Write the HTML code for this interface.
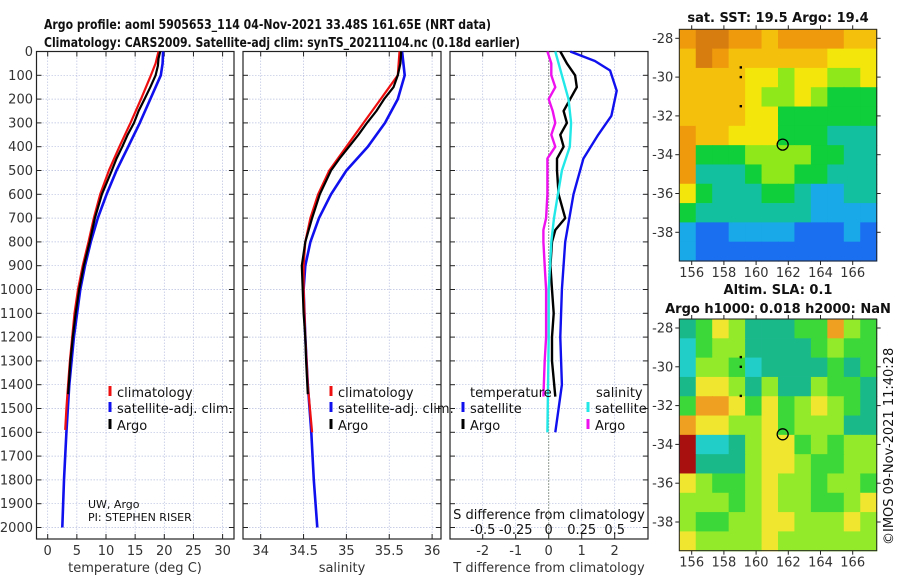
<!DOCTYPE html>
<html><head><meta charset="utf-8">
<style>
html,body{margin:0;padding:0;background:#fff;}
svg{display:block;font-family:"DejaVu Sans","Liberation Sans",sans-serif;}
</style></head>
<body>
<svg id="chart" width="900" height="580" viewBox="0 0 900 580" xmlns="http://www.w3.org/2000/svg">
<text x="44" y="29" font-size="13" font-weight="bold" fill="#111" textLength="447" lengthAdjust="spacingAndGlyphs">Argo profile: aoml 5905653_114 04-Nov-2021 33.48S 161.65E (NRT data)</text>
<text x="44" y="47" font-size="13" font-weight="bold" fill="#111" textLength="476" lengthAdjust="spacingAndGlyphs">Climatology: CARS2009. Satellite-adj clim: synTS_20211104.nc (0.18d earlier)</text>
<g id="g"></g>
</svg>
<script>
// ---------- data ----------
const tDepthClim = [0,50,100,200,300,400,500,600,700,800,900,1000,1100,1200,1300,1400,1500,1590];
const tClim      = [19,18.5,17.7,16,14.2,12.3,10.5,9.0,7.9,7.0,6.0,5.2,4.6,4.2,3.8,3.5,3.2,3.0];
const tDepthSat  = [0,50,100,200,300,400,500,600,700,800,900,1000,1200,1400,1600,1800,2000];
const tSat       = [19.8,19.7,19.4,17.6,15.8,13.8,11.8,10.1,8.6,7.4,6.4,5.6,4.5,3.7,3.2,2.8,2.5];
const tDepthArgo = [0,30,60,100,150,200,250,300,350,400,450,500,600,700,800,900,1000,1100,1200,1300,1440];
const tArgo      = [19.3,19.0,18.9,18.5,17.6,16.6,15.6,14.8,13.7,12.8,11.8,11.0,9.3,8.1,7.2,6.2,5.4,4.8,4.3,3.9,3.5];

const sDepthClim = [0,100,200,300,400,500,600,700,800,900,1000,1200,1400,1600];
const sClim      = [35.62,35.6,35.4,35.2,35.0,34.8,34.67,34.58,34.52,34.5,34.5,34.52,34.55,34.6];
const sDepthSat  = [0,100,200,300,400,500,600,700,800,900,1000,1200,1400,1600,1800,2000];
const sSat       = [35.65,35.68,35.6,35.45,35.25,35.0,34.82,34.68,34.58,34.52,34.5,34.52,34.55,34.59,34.62,34.66];
const sDepthArgo = [0,50,100,150,200,250,300,350,400,450,500,600,700,800,900,1000,1100,1200,1300,1440];
const sArgo      = [35.64,35.63,35.6,35.55,35.44,35.35,35.24,35.14,35.03,34.92,34.82,34.69,34.6,34.52,34.48,34.49,34.5,34.52,34.53,34.55];

const dDepth     = [0,40,80,165,270,350,450,600,800,1000,1200,1400,1500,1600];
const dTSat      = [0.65,1.4,1.86,2.06,1.9,1.5,1.05,0.75,0.5,0.4,0.35,0.4,0.3,0.2];
const dDepthS    = [0,100,200,300,400,500,600,700,800,1000,1200,1600];
const dSSat      = [0.05,0.1,0.15,0.17,0.16,0.1,0.07,0.04,0.02,0.0,0.0,-0.01];
const dDepthArgo = [0,50,100,150,200,250,300,350,400,450,500,600,700,750,800,900,1000,1100,1200,1300,1450];
const dTArgo     = [0.35,0.55,0.8,0.85,0.65,0.45,0.55,0.35,0.45,0.25,0.25,0.3,0.5,0.2,0.1,0.05,0.1,0.15,0.1,0.1,0.2];
const dSArgo     = [-0.01,0.02,0.02,0.05,0.0,0.03,0.05,0.02,0.05,-0.01,-0.01,-0.01,-0.02,-0.04,-0.04,-0.03,-0.02,-0.02,-0.02,-0.03,-0.04];

const depthTicks = [0,100,200,300,400,500,600,700,800,900,1000,1100,1200,1300,1400,1500,1600,1700,1800,1900,2000];
const tTicks = [0,5,10,15,20,25,30];
const sTicks = [34,34.5,35,35.5,36];
const sTickLabels = ["34","34.5","35","35.5","36"];
const dTTicks = [-2,-1,0,1,2];
const dSTicks = [-0.5,-0.25,0,0.25,0.5];
const dSTickLabels = ["-0.5","-0.25","0","0.25","0.5"];
const lonTicks = [156,158,160,162,164,166];
const latTicks = [-28,-30,-32,-34,-36,-38];

const sstColors = ["#0a3fd0","#1a6ef0","#19a8e8","#12c0a0","#0fcf3a","#8ee81a","#f2e60a","#f5c00c","#ee9a0c","#d77d10"];
const sstGrid = [
[8,9,9,8,8,7,8,8,8,8,7,7],
[7,9,8,7,7,7,7,7,7,6,6,6],
[7,7,7,7,6,6,5,6,6,5,5,6],
[7,7,7,7,6,5,5,6,5,4,4,4],
[7,7,7,7,6,6,4,4,4,4,4,4],
[8,7,7,6,6,6,4,4,4,3,3,3],
[8,4,4,4,5,5,5,5,4,4,3,3],
[8,3,3,3,4,5,5,4,4,3,3,3],
[6,4,3,3,3,4,4,3,2,2,3,3],
[4,3,3,3,3,3,3,3,2,2,2,2],
[2,1,1,2,2,2,2,1,1,1,2,1],
[2,1,1,1,1,1,1,1,1,1,1,1]];
const slaColors = ["#22cfc8","#1ab98a","#3cd83a","#92ea2a","#f0e630","#f0a020","#a81010"];
const slaGrid = [
[1,2,4,3,1,1,1,2,2,5,3,2],
[0,2,3,3,1,1,1,1,2,3,2,2],
[0,3,3,2,0,1,1,1,1,2,1,2],
[1,4,4,3,1,3,1,1,3,2,2,1],
[2,5,5,4,2,4,2,3,4,3,2,1],
[5,4,4,3,3,4,2,3,3,3,1,1],
[6,0,0,1,3,4,4,2,3,2,3,3],
[6,1,1,1,3,4,4,3,2,2,3,3],
[4,3,2,2,3,4,3,3,2,3,3,2],
[3,3,3,2,3,4,3,3,2,2,3,4],
[3,2,2,3,3,4,4,3,3,3,4,3],
[4,3,3,3,3,4,3,3,3,3,3,3]];
const argoLon = 161.65, argoLat = -33.48;

// ---------- helpers ----------
const NS="http://www.w3.org/2000/svg";
const G=document.getElementById('g');
function mk(tag,attrs,parent){const e=document.createElementNS(NS,tag);for(const k in attrs)e.setAttribute(k,attrs[k]);(parent||G).appendChild(e);return e;}
const yD = d => 51.5 + d*0.238;
const PT=51.5, PB=539;
const xT = v => 47.7 + v*5.83;
const xS = v => 260.7 + (v-34)*85.7;
const xDT = v => 548.7 + v*33;
const xDS = v => 548.7 + v*132;

function panel(name){
  const g=mk('g',{});
  
  
  return g;
}
function grid(g,L,R,xs){
  depthTicks.forEach(d=>{
    const l=mk('line',{x1:L,x2:R,y1:yD(d),y2:yD(d),stroke:"#b8bfe0","stroke-width":0.7,"stroke-dasharray":"1.5,1.5"},g);
    
    
    mk('line',{x1:L,x2:L+5,y1:yD(d),y2:yD(d),stroke:"#222"},g);
    mk('line',{x1:R-5,x2:R,y1:yD(d),y2:yD(d),stroke:"#222"},g);
  });
  xs.forEach(x=>{
    const l=mk('line',{x1:x,x2:x,y1:PT,y2:PB,stroke:"#b8bfe0","stroke-width":0.7,"stroke-dasharray":"1.5,1.5"},g);
    
    
    mk('line',{x1:x,x2:x,y1:PB-5,y2:PB,stroke:"#222"},g);
    mk('line',{x1:x,x2:x,y1:PT,y2:PT+5,stroke:"#222"},g);
  });
  const b=mk('rect',{x:L,y:PT,width:R-L,height:PB-PT,fill:"none",stroke:"#222","stroke-width":1.2},g);
  
  
}
function line(g,depths,vals,fx,color,w,name){
  const pts=depths.map((d,i)=>fx(vals[i]).toFixed(1)+","+yD(d).toFixed(1)).join(" ");
  const p=mk('polyline',{points:pts,fill:"none",stroke:color,"stroke-width":w,"stroke-linejoin":"round"},g);
  
  
}
function text(g,x,y,s,opts,name){
  const t=mk('text',Object.assign({x:x,y:y,"font-size":13,fill:"#333"},opts||{}),g);
  t.textContent=s;
  
  
  return t;
}
function legendEntry(g,mx,y,color,label,name){
  const r=mk('rect',{x:mx-1.5,y:y-11,width:3,height:10,fill:color},g);
  
  
  text(g,mx+7,y,label,{fill:"#111"},name);
}

// ---------- panel 1 temperature ----------
const p1=panel('temperature-panel');
grid(p1,36.5,234,tTicks.map(xT));
depthTicks.forEach(d=>text(p1,33,yD(d)+4.5,String(d),{"text-anchor":"end"},'depth-tick-label'));
tTicks.forEach(v=>text(p1,xT(v),555,String(v),{"text-anchor":"middle"},'temperature-tick-label'));
text(p1,135,572,"temperature (deg C)",{"text-anchor":"middle"},'temperature-axis-title');
line(p1,tDepthSat,tSat,xT,"#1010ee",2.6,'temperature-satellite-line');
line(p1,tDepthClim,tClim,xT,"#ee1010",2.2,'temperature-climatology-line');
line(p1,tDepthArgo,tArgo,xT,"#000",2.2,'temperature-argo-line');
legendEntry(p1,110,397,"#ee1010","climatology",'legend-climatology');
legendEntry(p1,110,413,"#1010ee","satellite-adj. clim.",'legend-satellite-adj');
legendEntry(p1,110,430,"#000","Argo",'legend-argo');
text(p1,88,508,"UW, Argo",{"font-size":11,fill:"#111"},'institution-label');
text(p1,88,521,"PI: STEPHEN RISER",{"font-size":11,fill:"#111"},'pi-label');

// ---------- panel 2 salinity ----------
const p2=panel('salinity-panel');
grid(p2,243,441,sTicks.map(xS));
sTicks.forEach((v,i)=>text(p2,xS(v),555,sTickLabels[i],{"text-anchor":"middle"},'salinity-tick-label'));
text(p2,342,572,"salinity",{"text-anchor":"middle"},'salinity-axis-title');
line(p2,sDepthSat,sSat,xS,"#1010ee",2.6,'salinity-satellite-line');
line(p2,sDepthClim,sClim,xS,"#ee1010",2.2,'salinity-climatology-line');
line(p2,sDepthArgo,sArgo,xS,"#000",2.2,'salinity-argo-line');
legendEntry(p2,331,397,"#ee1010","climatology",'legend-climatology-2');
legendEntry(p2,331,413,"#1010ee","satellite-adj. clim.",'legend-satellite-adj-2');
legendEntry(p2,331,430,"#000","Argo",'legend-argo-2');

// ---------- panel 3 differences ----------
const p3=panel('difference-panel');
grid(p3,450,648,dTTicks.map(xDT));
const zl=mk('line',{x1:xDT(0),x2:xDT(0),y1:PT,y2:PB,stroke:"#445533","stroke-width":1,"stroke-dasharray":"1,2"},p3);


dTTicks.forEach(v=>text(p3,xDT(v),555,String(v),{"text-anchor":"middle"},'t-diff-tick-label'));
text(p3,549,572,"T difference from climatology",{"text-anchor":"middle"},'t-diff-axis-title');
text(p3,549,519,"S difference from climatology",{"text-anchor":"middle",fill:"#111"},'s-diff-axis-title');
dSTicks.forEach((v,i)=>text(p3,xDS(v),534,dSTickLabels[i],{"text-anchor":"middle",fill:"#111"},'s-diff-tick-label'));
line(p3,dDepth,dTSat,xDT,"#1010ee",2.4,'t-diff-satellite-line');
line(p3,dDepthArgo,dTArgo,xDT,"#000",2.4,'t-diff-argo-line');
line(p3,dDepthS,dSSat,xDS,"#22e8e8",2.4,'s-diff-satellite-line');
line(p3,dDepthArgo,dSArgo,xDS,"#ee10ee",2.4,'s-diff-argo-line');
text(p3,470,397,"temperature",{fill:"#111"},'legend-temperature-heading');
text(p3,596,397,"salinity",{fill:"#111"},'legend-salinity-heading');
legendEntry(p3,463,413,"#1010ee","satellite",'legend-t-satellite');
legendEntry(p3,463,430,"#000","Argo",'legend-t-argo');
legendEntry(p3,588,413,"#22e8e8","satellite",'legend-s-satellite');
legendEntry(p3,588,430,"#ee10ee","Argo",'legend-s-argo');

// ---------- maps ----------
const ML=679.3, MR=876.7;
const lonX = lon => 691.7 + (lon-156)*16.1;
function map(top,bottom,gridArr,colors,name){
  const g=mk('g',{});
  
  
  const latY = lat => top + 9 + (-28-lat)*19.4;
  const rows=gridArr.length, cols=gridArr[0].length;
  const cw=(MR-ML)/cols, ch=(bottom-top)/rows;
  gridArr.forEach((row,r)=>row.forEach((v,c)=>{
    const cell=mk('rect',{x:(ML+c*cw).toFixed(2),y:(top+r*ch).toFixed(2),width:(cw+0.6).toFixed(2),height:(ch+0.6).toFixed(2),fill:colors[v]},g);
    
    
  }));
  [-29.5,-30.0,-31.5].forEach(lat=>{
    const d=mk('rect',{x:lonX(159.05)-1.2,y:latY(lat)-1.2,width:2.4,height:2.4,fill:"#000"},g);
    
    
  });
  const c=mk('circle',{cx:lonX(argoLon),cy:latY(argoLat),r:5.5,fill:"none",stroke:"#000","stroke-width":1.3},g);
  
  
  const fr=mk('rect',{x:ML,y:top,width:MR-ML,height:bottom-top,fill:"none",stroke:"#222","stroke-width":1},g);
  
  
  latTicks.forEach(lat=>{
    mk('line',{x1:ML-4,x2:ML,y1:latY(lat),y2:latY(lat),stroke:"#222"},g);
    mk('line',{x1:MR,x2:MR+4,y1:latY(lat),y2:latY(lat),stroke:"#222"},g);
    text(g,ML-6,latY(lat)+4.5,String(lat),{"text-anchor":"end"},'latitude-tick-label');
  });
  lonTicks.forEach(lon=>{
    mk('line',{x1:lonX(lon),x2:lonX(lon),y1:bottom,y2:bottom+4,stroke:"#222"},g);
    mk('line',{x1:lonX(lon),x2:lonX(lon),y1:top-4,y2:top,stroke:"#222"},g);
    text(g,lonX(lon),bottom+16,String(lon),{"text-anchor":"middle"},'longitude-tick-label');
  });
  return g;
}
const m1=map(29.3,261,sstGrid,sstColors,'sst-map');
text(m1,778,22,"sat. SST: 19.5 Argo: 19.4",{"text-anchor":"middle","font-weight":"bold",fill:"#111"},'sst-map-title');
const m2=map(319,550.7,slaGrid,slaColors,'sla-map');
text(m2,778,294,"Altim. SLA: 0.1",{"text-anchor":"middle","font-weight":"bold",fill:"#111"},'sla-map-title');
text(m2,778,313,"Argo h1000: 0.018 h2000: NaN",{"text-anchor":"middle","font-weight":"bold",fill:"#111"},'sla-map-subtitle');
text(G,893,545,"©IMOS 09-Nov-2021 11:40:28",{"font-size":13,fill:"#111",transform:"rotate(-90 893 545)"},'timestamp-label');
</script>
</body></html>
